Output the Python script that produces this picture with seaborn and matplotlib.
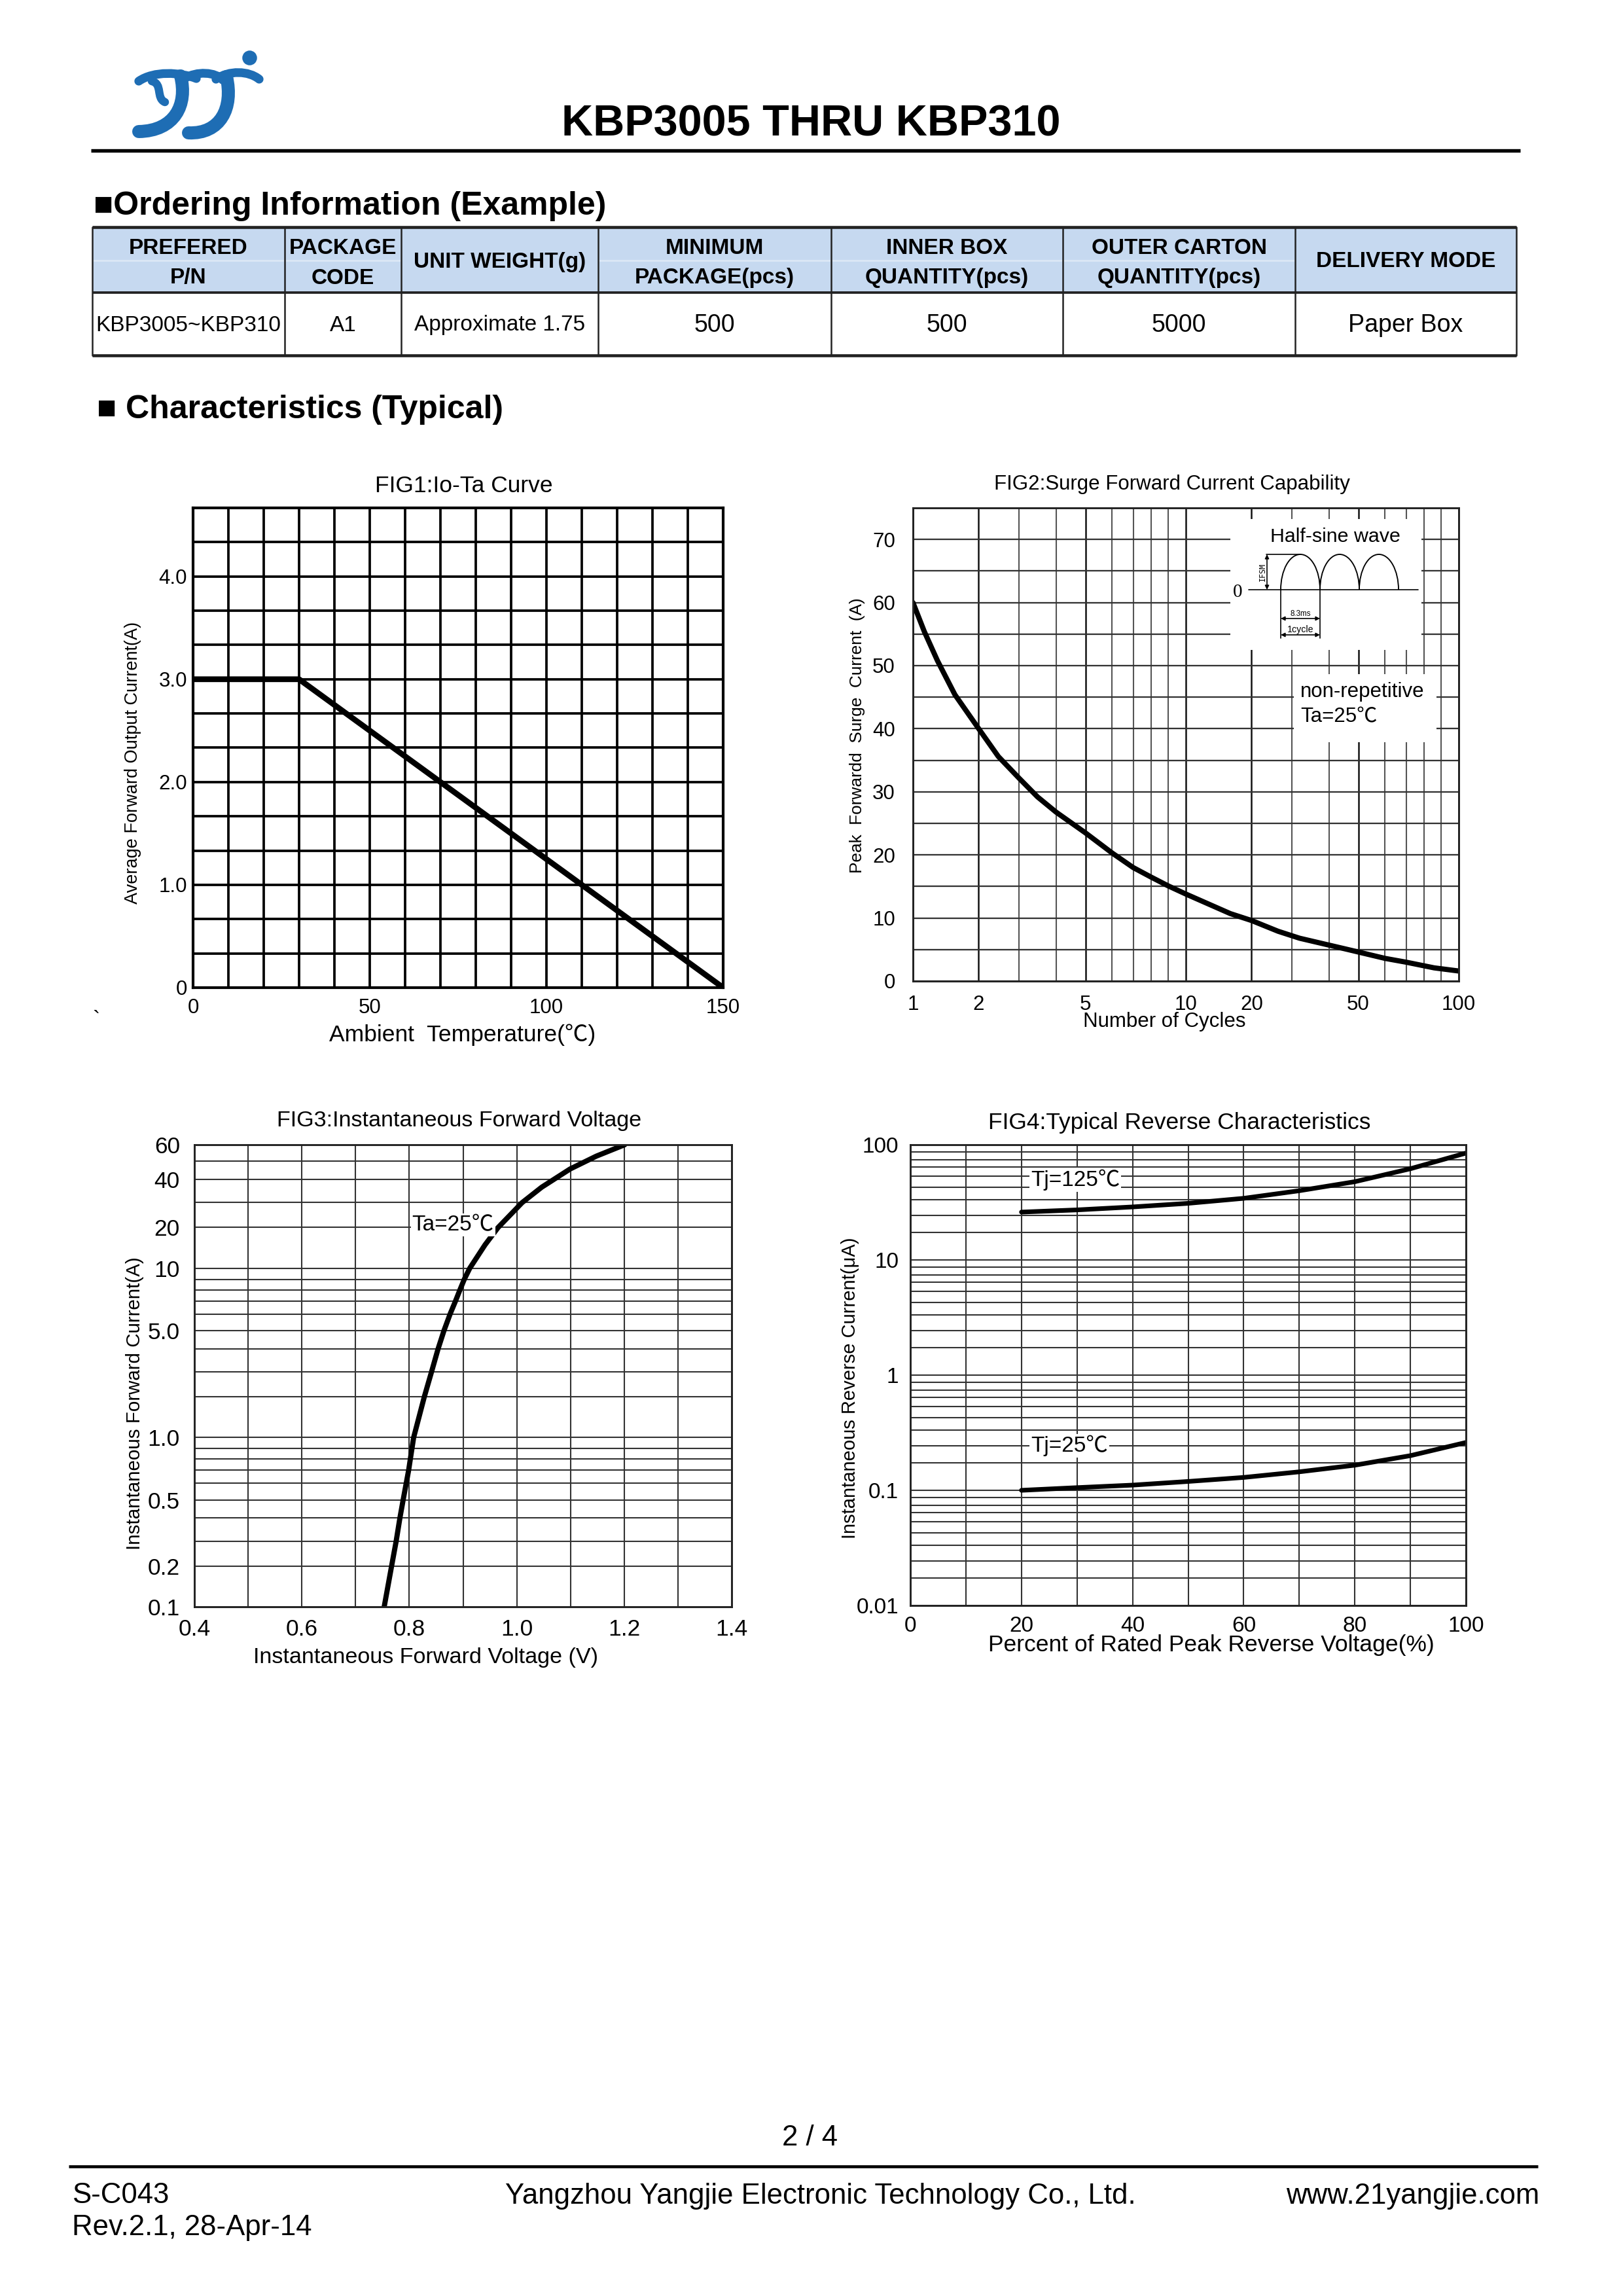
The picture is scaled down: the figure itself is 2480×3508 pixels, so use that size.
import numpy as np
import matplotlib
matplotlib.use("Agg")
import matplotlib.pyplot as plt
import seaborn as sns
from matplotlib.patches import Rectangle, Arc, PathPatch
from matplotlib.path import Path
from matplotlib.ticker import FixedLocator, FixedFormatter, NullFormatter

sns.set_theme(style="white")
plt.rcParams['font.family'] = ['Liberation Sans', 'Noto Sans CJK SC', 'DejaVu Sans']
plt.rcParams['axes.unicode_minus'] = False
for k in ['text.color', 'axes.labelcolor', 'xtick.color', 'ytick.color']:
    plt.rcParams[k] = 'black'

# ---------------- data ----------------
title_text = "KBP3005 THRU KBP310"
table_headers = ["PREFERED\nP/N", "PACKAGE\nCODE", "UNIT WEIGHT(g)", "MINIMUM\nPACKAGE(pcs)",
                 "INNER BOX\nQUANTITY(pcs)", "OUTER CARTON\nQUANTITY(pcs)", "DELIVERY MODE"]
table_row = ["KBP3005~KBP310", "A1", "Approximate 1.75", "500", "500", "5000", "Paper Box"]

fig1_temp = [0, 30, 150]
fig1_current = [3.0, 3.0, 0.0]
fig1_xticks = [0, 50, 100, 150]
fig1_yticks = [0, 1, 2, 3, 4]
fig1_yticklabels = ['0', '1.0', '2.0', '3.0', '4.0']

fig2_cycles = [1, 1.173, 1.372, 1.638, 2, 2.489, 3, 3.503, 4, 5, 6, 7, 8, 9, 10,
               16.76, 20, 26.6, 32.1, 46.5, 60, 70, 86, 100]
fig2_current = [60, 55.4, 50.8, 45.4, 40, 35.6, 32.2, 29.2, 26.8, 23.5, 20.3, 18.0, 16.5, 15.1, 13.8,
                10.7, 9.6, 7.9, 6.8, 5.0, 3.6, 3.0, 2.1, 1.6]
fig2_xticks = [1, 2, 5, 10, 20, 50, 100]
fig2_xminor = [3, 4, 6, 7, 8, 9, 30, 40, 60, 70, 80, 90]
fig2_yticks = [0, 10, 20, 30, 40, 50, 60, 70]
fig2_yminor = [5, 15, 25, 35, 45, 55, 65]

fig3_voltage = [0.7533, 0.7671, 0.7756, 0.7825, 0.7886, 0.7988, 0.8081, 0.828, 0.8414, 0.8536,
                0.8646, 0.876, 0.8861, 0.8942, 0.9024, 0.9125, 0.941, 0.9653, 1.010, 1.0465,
                1.0993, 1.148, 1.2009]
fig3_current = [0.1, 0.2, 0.3, 0.4, 0.5, 0.7, 1.0, 2, 3, 4,
                5, 6, 7, 8, 9, 10, 15.75, 20, 30, 36.7,
                45.8, 53.1, 60]
fig3_xticks = [0.4, 0.6, 0.8, 1.0, 1.2, 1.4]
fig3_xminor = [0.5, 0.7, 0.9, 1.1, 1.3]
fig3_yticks = [0.1, 0.2, 0.5, 1, 5, 10, 20, 40, 60]
fig3_yticklabels = ['0.1', '0.2', '0.5', '1.0', '5.0', '10', '20', '40', '60']
fig3_yminor = [0.3, 0.4, 0.6, 0.7, 0.8, 0.9, 2, 3, 4, 6, 7, 8, 9, 30, 50]

fig4_percent = [20, 30, 40, 50, 60, 70, 80, 90, 100]
fig4_tj125 = [32.0, 33.4, 35.3, 37.6, 41.0, 47.1, 54.8, 68.0, 88.8]
fig4_tj25 = [0.100, 0.1096, 0.1187, 0.1319, 0.1464, 0.1666, 0.1905, 0.2407, 0.320]
fig4_xticks = [0, 20, 40, 60, 80, 100]
fig4_xminor = [10, 30, 50, 70, 90]
fig4_yticks = [0.01, 0.1, 1, 10, 100]
fig4_yticklabels = ['0.01', '0.1', '1', '10', '100']
fig4_yminor = [m * d for d in [0.01, 0.1, 1, 10] for m in range(2, 10)]

# ---------------- per-decade graph-paper scale of the datasheet grids ----------------
G_M = [1, 2, 3, 4, 5, 6, 7, 8, 9, 10]
G_F = [0.0, 0.241, 0.388, 0.524, 0.632, 0.730, 0.807, 0.872, 0.935, 1.0]

def qlog_fwd(v):
    v = np.asarray(v, dtype=float)
    v = np.where(v > 0, v, 1e-300)
    l = np.log10(v)
    d = np.floor(l + 1e-9)
    m = v / 10.0 ** d
    return d + np.interp(m, G_M, G_F)

def qlog_inv(u):
    u = np.asarray(u, dtype=float)
    d = np.floor(u)
    fr = u - d
    return np.interp(fr, G_F, G_M) * 10.0 ** d

# ---------------- figure ----------------
W, H = 2480, 3508
DPI = 300
fig = plt.figure(figsize=(W / DPI, H / DPI), dpi=DPI)
fig.patch.set_facecolor('white')

def add_box(l, t, r, b, **kw):
    return fig.add_axes([l / W, 1 - b / H, (r - l) / W, (b - t) / H], **kw)

page = add_box(0, 0, W, H)
page.set_xlim(0, W); page.set_ylim(H, 0); page.axis('off')
page.patch.set_alpha(0)

# header
page.text(1239, 190, title_text, ha='center', va='center', fontsize=16, fontweight='bold')
page.plot([139, 2323], [230, 230], color='black', lw=1.3, solid_capstyle='butt')

# logo
BLUE = '#1E6DB4'
def bez(p, lw):
    path = Path(p, [Path.MOVETO, Path.CURVE4, Path.CURVE4, Path.CURVE4])
    page.add_patch(PathPatch(path, fc='none', ec=BLUE, lw=lw, capstyle='round'))
bez([(276, 116), (287, 160), (267, 200), (212, 201)], 4.8)
bez([(212, 124), (235, 108), (275, 110), (300, 120)], 3.2)
bez([(232, 124), (249, 128), (238, 150), (252, 156)], 3.0)
bez([(346, 117), (357, 165), (337, 205), (288, 203)], 4.8)
bez([(282, 120), (300, 108), (330, 110), (340, 122)], 3.2)
bez([(330, 121), (350, 107), (380, 108), (396, 121)], 3.2)
page.plot([381], [88], marker='o', ms=4.4, color=BLUE, mec=BLUE)

# ordering information
page.text(143, 315, "■Ordering Information (Example)", ha='left', va='center',
          fontsize=12, fontweight='bold')
col_edges = [141, 435, 613, 914, 1270, 1624, 1979, 2317]
top, mid, bot = 347, 447, 543
page.add_patch(Rectangle((col_edges[0], top), col_edges[-1] - col_edges[0], mid - top,
                         fc='#C6D9F0', ec='none'))
for i, h in enumerate(table_headers):
    cx = (col_edges[i] + col_edges[i + 1]) / 2
    lines = h.split('\n')
    if len(lines) == 2:
        page.plot([col_edges[i] + 2, col_edges[i + 1] - 2], [398, 398], color='#DDE8F6', lw=0.6)
        page.text(cx, 380, lines[0], ha='center', va='center', fontsize=8, fontweight='bold')
        page.text(cx, 425, lines[1], ha='center', va='center', fontsize=8, fontweight='bold')
    else:
        page.text(cx, 400, lines[0], ha='center', va='center', fontsize=8, fontweight='bold')
row_fs = [8, 8, 8, 9, 9, 9, 9]
for i, v in enumerate(table_row):
    cx = (col_edges[i] + col_edges[i + 1]) / 2
    page.text(cx, 497, v, ha='center', va='center', fontsize=row_fs[i])
for y, lw in [(top, 1.1), (mid, 0.9), (bot, 1.1)]:
    page.plot([col_edges[0], col_edges[-1]], [y, y], color='#222222', lw=lw, solid_capstyle='butt')
for x in col_edges:
    page.plot([x, x], [top, bot], color='#222222', lw=0.6)

page.text(148, 626, "■ Characteristics (Typical)", ha='left', va='center',
          fontsize=12, fontweight='bold')

# chart titles
page.text(709, 742, "FIG1:Io-Ta Curve", ha='center', va='center', fontsize=8.5)
page.text(1791, 740, "FIG2:Surge Forward Current Capability", ha='center', va='center', fontsize=7.5)
page.text(702, 1713, "FIG3:Instantaneous Forward Voltage", ha='center', va='center', fontsize=8.2)
page.text(1802, 1715, "FIG4:Typical Reverse Characteristics", ha='center', va='center', fontsize=8.5)
page.text(147, 1560, "`", ha='center', va='center', fontsize=8)

# footer
page.text(1237, 3267, "2 / 4", ha='center', va='center', fontsize=10.5)
page.plot([105, 2350], [3310, 3310], color='black', lw=1.1, solid_capstyle='butt')
page.text(110, 3354, "S-C043", ha='left', va='center', fontsize=10.5)
page.text(110, 3403, "Rev.2.1, 28-Apr-14", ha='left', va='center', fontsize=10.5)
page.text(1254, 3356, "Yangzhou Yangjie Electronic Technology Co., Ltd.", ha='center', va='center', fontsize=10.5)
page.text(2352, 3356, "www.21yangjie.com", ha='right', va='center', fontsize=10.5)


def style_axes(ax, box, xpad, ypad, fs, spine_c='black', spine_lw=0.8):
    ax.tick_params(axis='both', which='both', length=0, labelsize=fs)
    ax.tick_params(axis='x', pad=xpad)
    ax.tick_params(axis='y', pad=ypad)
    for s in ax.spines.values():
        s.set_visible(True)
        s.set_color(spine_c)
        s.set_linewidth(spine_lw)
    ax.set_axisbelow(True)
    ax.set_facecolor('white')


def place_labels(ax, box, xl, xpos, xfs, yl, ypos, yfs):
    l, t, r, b = box
    ax.set_xlabel(xl, fontsize=xfs, ha='center', va='center')
    ax.xaxis.set_label_coords((xpos[0] - l) / (r - l), (b - xpos[1]) / (b - t))
    ax.set_ylabel(yl, fontsize=yfs, ha='center', va='center')
    ax.yaxis.set_label_coords((ypos[0] - l) / (r - l), (b - ypos[1]) / (b - t))


# ---------------- FIG1 ----------------
b1 = (295, 776, 1105, 1509)
ax1 = add_box(*b1)
sns.lineplot(x=fig1_temp, y=fig1_current, ax=ax1, color='black', lw=2.1, errorbar=None,
             solid_capstyle='round')
ax1.set_xlim(0, 150); ax1.set_ylim(0, 14 / 3)
ax1.xaxis.set_major_locator(FixedLocator(fig1_xticks))
ax1.xaxis.set_major_formatter(FixedFormatter([str(v) for v in fig1_xticks]))
ax1.xaxis.set_minor_locator(FixedLocator(np.arange(0, 151, 10)))
ax1.yaxis.set_major_locator(FixedLocator(fig1_yticks))
ax1.yaxis.set_major_formatter(FixedFormatter(fig1_yticklabels))
ax1.yaxis.set_minor_locator(FixedLocator(np.arange(0, 4.7, 1 / 3)))
ax1.grid(which='both', color='black', lw=0.9)
style_axes(ax1, b1, 3.8, 2.2, 7.5, 'black', 1.0)
place_labels(ax1, b1, "Ambient  Temperature(℃)", (707, 1581), 8.5,
             "Average Forward Output Current(A)", (203, 1165), 6.5)

# ---------------- FIG2 ----------------
b2 = (1395, 776, 2229, 1499)
ax2 = add_box(*b2)
sns.lineplot(x=fig2_cycles, y=fig2_current, ax=ax2, color='black', lw=1.9, errorbar=None,
             solid_joinstyle='round', solid_capstyle='round')
ax2.set_xscale('function', functions=(qlog_fwd, qlog_inv))
ax2.set_xlim(1, 100); ax2.set_ylim(0, 75)
ax2.xaxis.set_major_locator(FixedLocator(fig2_xticks))
ax2.xaxis.set_major_formatter(FixedFormatter([str(v) for v in fig2_xticks]))
ax2.xaxis.set_minor_locator(FixedLocator(fig2_xminor))
ax2.xaxis.set_minor_formatter(NullFormatter())
ax2.yaxis.set_major_locator(FixedLocator(fig2_yticks))
ax2.yaxis.set_major_formatter(FixedFormatter([str(v) for v in fig2_yticks]))
ax2.yaxis.set_minor_locator(FixedLocator(fig2_yminor))
ax2.grid(which='major', axis='x', color='#111111', lw=0.6)
ax2.grid(which='minor', axis='x', color='#555555', lw=0.5)
ax2.grid(which='both', axis='y', color='#333333', lw=0.55)
style_axes(ax2, b2, 5.0, 6.5, 7.5, '#222222', 0.7)
place_labels(ax2, b2, "Number of Cycles", (1779, 1561), 7.5,
             "Peak  Forwardd  Surge  Current  (A)", (1310, 1124), 6.3)

# ---------------- FIG3 ----------------
b3 = (297, 1749, 1118, 2455)
ax3 = add_box(*b3)
sns.lineplot(x=fig3_voltage, y=fig3_current, ax=ax3, color='black', lw=1.9, errorbar=None,
             solid_joinstyle='round', solid_capstyle='round')
ax3.set_yscale('function', functions=(qlog_fwd, qlog_inv))
ax3.set_xlim(0.4, 1.4); ax3.set_ylim(0.1, 60)
ax3.xaxis.set_major_locator(FixedLocator(fig3_xticks))
ax3.xaxis.set_major_formatter(FixedFormatter([f"{v:.1f}" for v in fig3_xticks]))
ax3.xaxis.set_minor_locator(FixedLocator(fig3_xminor))
ax3.yaxis.set_major_locator(FixedLocator(fig3_yticks))
ax3.yaxis.set_major_formatter(FixedFormatter(fig3_yticklabels))
ax3.yaxis.set_minor_locator(FixedLocator(fig3_yminor))
ax3.yaxis.set_minor_formatter(NullFormatter())
ax3.grid(which='both', color='#333333', lw=0.5)
style_axes(ax3, b3, 4.3, 5.3, 8.5, '#222222', 0.7)
place_labels(ax3, b3, "Instantaneous Forward Voltage (V)", (650, 2533), 8.2,
             "Instantaneous Forward Current(A)", (206, 2144), 7.1)
ax3.text(0.805, 21, "Ta=25℃", ha='left', va='center', fontsize=8,
         bbox=dict(facecolor='white', edgecolor='none', pad=0.5))

# ---------------- FIG4 ----------------
b4 = (1391, 1749, 2240, 2453)
ax4 = add_box(*b4)
sns.lineplot(x=fig4_percent, y=fig4_tj125, ax=ax4, color='black', lw=1.7, errorbar=None,
             solid_joinstyle='round')
sns.lineplot(x=fig4_percent, y=fig4_tj25, ax=ax4, color='black', lw=1.7, errorbar=None,
             solid_joinstyle='round')
ax4.set_yscale('function', functions=(qlog_fwd, qlog_inv))
ax4.set_xlim(0, 100); ax4.set_ylim(0.01, 100)
ax4.xaxis.set_major_locator(FixedLocator(fig4_xticks))
ax4.xaxis.set_major_formatter(FixedFormatter([str(v) for v in fig4_xticks]))
ax4.xaxis.set_minor_locator(FixedLocator(fig4_xminor))
ax4.yaxis.set_major_locator(FixedLocator(fig4_yticks))
ax4.yaxis.set_major_formatter(FixedFormatter(fig4_yticklabels))
ax4.yaxis.set_minor_locator(FixedLocator(fig4_yminor))
ax4.yaxis.set_minor_formatter(NullFormatter())
ax4.grid(which='both', color='#333333', lw=0.5)
style_axes(ax4, b4, 3.8, 4.3, 8, '#222222', 0.7)
place_labels(ax4, b4, "Percent of Rated Peak Reverse Voltage(%)", (1851, 2513), 8.5,
             "Instantaneous Reverse Current(μA)", (1299, 2121), 7.0)
ax4.text(21.7, 56.5, "Tj=125℃", ha='left', va='center', fontsize=8,
         bbox=dict(facecolor='white', edgecolor='none', pad=0.5))
ax4.text(21.7, 0.298, "Tj=25℃", ha='left', va='center', fontsize=8,
         bbox=dict(facecolor='white', edgecolor='none', pad=0.5))

# ---------------- FIG2 inset annotations (overlay, pixel coords) ----------------
ov = add_box(0, 0, W, H)
ov.set_xlim(0, W); ov.set_ylim(H, 0); ov.axis('off'); ov.patch.set_alpha(0)
ov.set_zorder(10)
ov.add_patch(Rectangle((1880, 793), 292, 200, fc='white', ec='none'))
ov.add_patch(Rectangle((1977, 1030), 218, 104, fc='white', ec='none'))
ov.text(2040, 820, "Half-sine wave", ha='center', va='center', fontsize=7.3)
ov.plot([1908, 2167], [901, 901], color='black', lw=0.4)
for cx in [1987, 2047, 2107]:
    ov.add_patch(Arc((cx, 901), 60, 108, theta1=180, theta2=360, color='black', lw=0.45))
ov.plot([1935, 1987], [847, 847], color='black', lw=0.4)
ov.annotate('', xy=(1936, 847), xytext=(1936, 901),
            arrowprops=dict(arrowstyle='<|-|>', lw=0.4, color='black', mutation_scale=3,
                            shrinkA=0, shrinkB=0))
ov.text(1929, 874, "IFSM", rotation=90, ha='center', va='center', fontsize=2.8,
        family='DejaVu Sans Mono')
ov.text(1891, 905, "0", ha='center', va='center', fontsize=7, family='Liberation Serif')
ov.plot([1957, 1957], [901, 975], color='black', lw=0.4)
ov.plot([2017, 2017], [901, 975], color='black', lw=0.4)
for yy in [945, 970]:
    ov.annotate('', xy=(1957, yy), xytext=(2017, yy),
                arrowprops=dict(arrowstyle='<|-|>', lw=0.4, color='black', mutation_scale=3,
                                shrinkA=0, shrinkB=0))
ov.text(1987, 938, "8.3ms", ha='center', va='center', fontsize=2.8)
ov.text(1987, 962, "1cycle", ha='center', va='center', fontsize=3.4)
ov.text(1987, 1057, "non-repetitive", ha='left', va='center', fontsize=7.5)
ov.text(1987, 1095, "Ta=25℃", ha='left', va='center', fontsize=7.5)

fig.savefig("out.png", dpi=DPI, facecolor='white')
